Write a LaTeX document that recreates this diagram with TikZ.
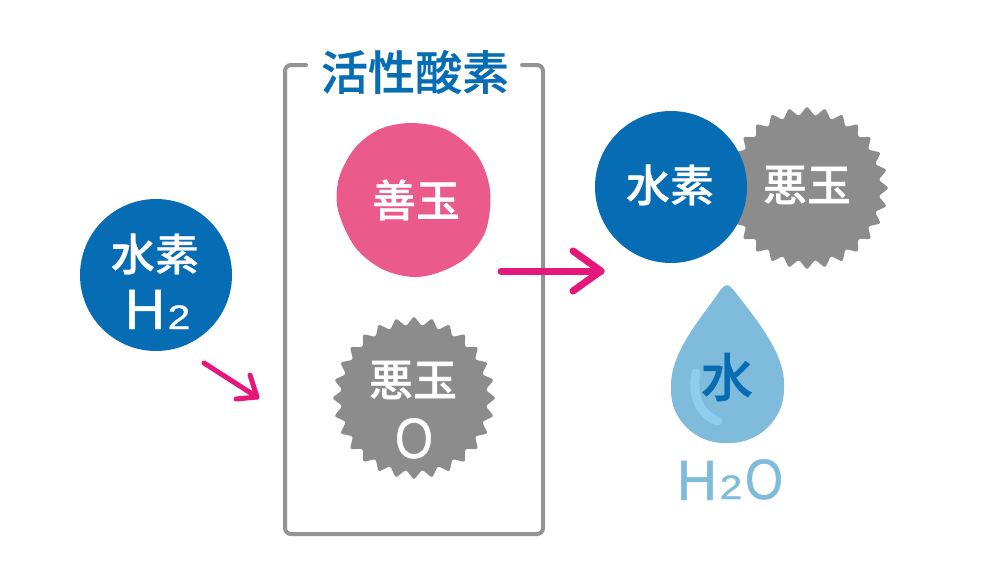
\documentclass[tikz,border=0pt]{standalone}
\usepackage{fontspec}
\setmainfont[FakeBold=0.75]{Liberation Sans}
\newfontfamily\cjkfont[FakeBold=0.6]{Noto Sans CJK JP Medium}
\usetikzlibrary{shapes.geometric}
\definecolor{hblue}{HTML}{066CB4}
\definecolor{gpink}{HTML}{EA5B8B}
\definecolor{bgray}{HTML}{8C8C8C}
\definecolor{framegray}{HTML}{939393}
\definecolor{arrowpink}{HTML}{E6177A}
\definecolor{dropblue}{HTML}{7FBCDC}
\definecolor{shineblue}{HTML}{8FCDEE}
\newcommand{\wideH}{\scalebox{.98}[1]{H}}
\newcommand{\slimO}{\scalebox{.86}[1]{O}}
\newcommand{\wideTwo}{\scalebox{1.2}[1]{2}}
\tikzset{
  atom/.style={circle,fill=hblue,minimum size=152pt,inner sep=0pt},
  burst/.style={star,star points=28,star point ratio=1.14,minimum size=164pt,inner sep=0pt,fill=bgray,rounded corners=2.5pt},
  kanji/.style={text=white,inner sep=0pt,font=\cjkfont\fontsize{44}{44}\selectfont},
  bigletter/.style={text=white,inner sep=0pt,anchor=base,font=\fontsize{57}{57}\selectfont},
  smalldigit/.style={text=white,inner sep=0pt,anchor=base,font=\fontsize{34}{34}\selectfont},
  reaction/.style={draw=arrowpink,line width=7pt,line cap=round,line join=round},
}
\begin{document}
\begin{tikzpicture}[x=1pt,y=-1pt]
\useasboundingbox (0,0) rectangle (1000,562);
% frame
\draw[framegray,line width=4pt,rounded corners=6pt,line cap=round]
  (306,65) -- (285,65) -- (285,534) -- (543,534) -- (543,65) -- (522,65);
\node[inner sep=0pt,text=hblue,font=\cjkfont\fontsize{47}{47}\selectfont] (title) at (415,72) {活性酸素};
% hydrogen
\node[atom] (h2) at (156,275) {};
\node[kanji] (h2a) at (155,254) {水素};
\node[bigletter] (h2b) at (145,329) {\wideH};
\node[smalldigit] (h2c) at (179,329) {\wideTwo};
% good
\fill[gpink] plot[smooth cycle,tension=.55] coordinates {(412,123)(447,130)(477,155)(490,190)(486,230)(467,257)(440,272)(413,277)(382,269)(355,247)(338,210)(339,178)(355,148)(380,129)};
\node[kanji] (good) at (416,200) {善玉};
% bad 1
\node[burst] (bad1) at (414,398) {};
\node[kanji] (bad1a) at (413,380) {悪玉};
\node[bigletter] (bad1b) at (414,458) {\slimO};
% bad 2 and hydrogen
\node[burst] (bad2) at (807,188) {};
\node[atom] (h3) at (671,187) {};
\node[kanji] (h3a) at (670,185) {水素};
\node[kanji] (bad2a) at (807,185) {悪玉};
% drop
\fill[dropblue,rounded corners=3pt] (727,284) -- (733,289) .. controls (750,312) and (784,350) .. (784,386)
  .. controls (784,420) and (758,443) .. (727,443)
  .. controls (696,443) and (671,420) .. (671,388)
  .. controls (671,350) and (706,312) .. (721,289) -- cycle;
\draw[shineblue,line width=9pt,line cap=round] (696,373) .. controls (691,398) and (702,416) .. (718,421);
\node[inner sep=0pt,text=hblue,font=\cjkfont\fontsize{52}{52}\selectfont] (water) at (727,377) {水};
\node[bigletter,text=dropblue] (wh) at (697,500) {\wideH};
\node[smalldigit,text=dropblue] (w2) at (731,499) {\wideTwo};
\node[bigletter,text=dropblue] (wo) at (764,499) {\slimO};
% arrows
\coordinate (a1s) at (204,363);
\coordinate (a1e) at (257,397);
\coordinate (a1u) at (250,375);
\coordinate (a1d) at (236,399);
\draw[reaction,line width=5pt] (a1s) -- (a1e);
\draw[reaction,line width=5pt] (a1u) -- (a1e) -- (a1d);
\coordinate (a2s) at (501,271);
\coordinate (a2e) at (601,271);
\coordinate (a2u) at (573,251);
\coordinate (a2d) at (573,291);
\draw[reaction] (a2s) -- (a2e);
\draw[reaction] (a2u) -- (a2e) -- (a2d);
\end{tikzpicture}
\end{document}
